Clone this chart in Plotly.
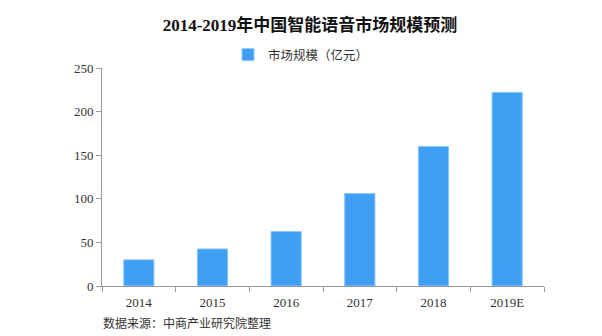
import plotly.graph_objects as go

categories = ["2014", "2015", "2016", "2017", "2018", "2019E"]
values = [30, 42.5, 62.5, 106, 160, 222]
series_name = "市场规模（亿元）"
title_text = "2014-2019年中国智能语音市场规模预测"
source_text = "数据来源：中商产业研究院整理"

serif = "Liberation Serif, DejaVu Serif, Noto Sans CJK SC"

fig = go.Figure()
fig.add_trace(go.Bar(
    x=categories, y=values, name=series_name,
    marker=dict(color="#3F9FF5", line=dict(color="#8CC6FA", width=1)),
    width=0.41,
))
fig.update_layout(
    width=602, height=336,
    margin=dict(l=102, r=58, t=68, b=50, autoexpand=False),
    paper_bgcolor="white", plot_bgcolor="white",
    title=dict(text="<b>" + title_text + "</b>", x=310 / 602, xanchor="center",
               xref="container",
               y=1 - 25 / 336, yanchor="middle",
               font=dict(family=serif, size=17, color="#111")),
    showlegend=True,
    legend=dict(orientation="h", x=(228 - 102) / 442, xanchor="left",
                y=1 + (68 - 55) / 218, yanchor="middle",
                font=dict(family=serif, size=12.5, color="#333"),
                itemwidth=30),
    xaxis=dict(showline=True, linecolor="#999", linewidth=1, ticks="outside",
               tickson="boundaries", ticklen=5, tickcolor="#999", ticklabelstandoff=4,
               tickfont=dict(family=serif, size=13, color="#333"), showgrid=False),
    yaxis=dict(range=[0, 250], dtick=50, showline=True, linecolor="#999", linewidth=1,
               ticks="outside", ticklen=5, tickcolor="#999", showgrid=False, zeroline=False,
               tickfont=dict(family=serif, size=13, color="#333")),
    annotations=[dict(text=source_text, xref="paper", yref="paper",
                      x=(101 - 102) / 442, y=-(323 - 286) / 218,
                      xanchor="left", yanchor="middle", showarrow=False,
                      font=dict(family=serif, size=12, color="#333"))],
)
fig.write_html("out.html")
